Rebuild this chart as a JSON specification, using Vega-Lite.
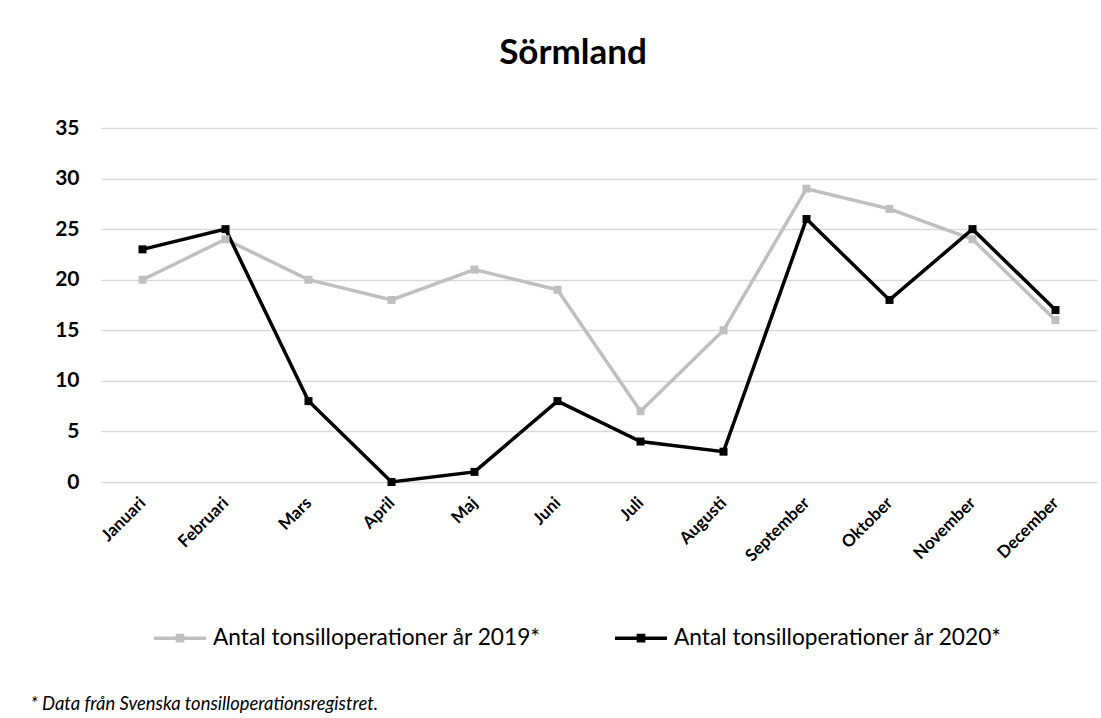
{
  "$schema": "https://vega.github.io/schema/vega-lite/v6.json",
  "width": 996,
  "height": 354,
  "autosize": {"type": "none"},
  "padding": {"left": 101, "top": 128, "right": 4, "bottom": 236},
  "background": "white",
  "config": {
    "font": "Lato",
    "view": {"stroke": null},
    "axis": {"labelColor": "#000000", "titleColor": "#000000"}
  },
  "title": {
    "text": "Sörmland",
    "fontSize": 35,
    "fontWeight": "bold",
    "font": "Lato",
    "color": "#000000",
    "anchor": "middle",
    "frame": "group",
    "baseline": "alphabetic",
    "offset": 18,
    "dx": -26
  },
  "data": {
    "values": [
      {"month": "Januari", "series": "Antal tonsilloperationer år 2019*", "value": 20},
      {"month": "Februari", "series": "Antal tonsilloperationer år 2019*", "value": 24},
      {"month": "Mars", "series": "Antal tonsilloperationer år 2019*", "value": 20},
      {"month": "April", "series": "Antal tonsilloperationer år 2019*", "value": 18},
      {"month": "Maj", "series": "Antal tonsilloperationer år 2019*", "value": 21},
      {"month": "Juni", "series": "Antal tonsilloperationer år 2019*", "value": 19},
      {"month": "Juli", "series": "Antal tonsilloperationer år 2019*", "value": 7},
      {"month": "Augusti", "series": "Antal tonsilloperationer år 2019*", "value": 15},
      {"month": "September", "series": "Antal tonsilloperationer år 2019*", "value": 29},
      {"month": "Oktober", "series": "Antal tonsilloperationer år 2019*", "value": 27},
      {"month": "November", "series": "Antal tonsilloperationer år 2019*", "value": 24},
      {"month": "December", "series": "Antal tonsilloperationer år 2019*", "value": 16},
      {"month": "Januari", "series": "Antal tonsilloperationer år 2020*", "value": 23},
      {"month": "Februari", "series": "Antal tonsilloperationer år 2020*", "value": 25},
      {"month": "Mars", "series": "Antal tonsilloperationer år 2020*", "value": 8},
      {"month": "April", "series": "Antal tonsilloperationer år 2020*", "value": 0},
      {"month": "Maj", "series": "Antal tonsilloperationer år 2020*", "value": 1},
      {"month": "Juni", "series": "Antal tonsilloperationer år 2020*", "value": 8},
      {"month": "Juli", "series": "Antal tonsilloperationer år 2020*", "value": 4},
      {"month": "Augusti", "series": "Antal tonsilloperationer år 2020*", "value": 3},
      {"month": "September", "series": "Antal tonsilloperationer år 2020*", "value": 26},
      {"month": "Oktober", "series": "Antal tonsilloperationer år 2020*", "value": 18},
      {"month": "November", "series": "Antal tonsilloperationer år 2020*", "value": 25},
      {"month": "December", "series": "Antal tonsilloperationer år 2020*", "value": 17}
    ]
  },
  "mark": {
    "type": "line",
    "strokeWidth": 3.5,
    "point": {"filled": true, "shape": "square", "size": 64, "opacity": 1}
  },
  "encoding": {
    "x": {
      "field": "month",
      "type": "nominal",
      "sort": null,
      "scale": {"paddingInner": 0, "paddingOuter": 0.5},
      "axis": {
        "labelAngle": -45,
        "labelAlign": "right",
        "labelBaseline": "middle",
        "labelFontSize": 17,
        "labelFontWeight": "bold",
        "labelPadding": 18,
        "ticks": false,
        "domain": false,
        "grid": false,
        "title": "* Data från Svenska tonsilloperationsregistret.",
        "titleFontSize": 18.4,
        "titleFontStyle": "italic",
        "titleFontWeight": "normal",
        "titleX": -71,
        "titleY": 227,
        "titleAlign": "left",
        "titleAnchor": "start",
        "titleBaseline": "alphabetic"
      }
    },
    "y": {
      "field": "value",
      "type": "quantitative",
      "scale": {"domain": [0, 35], "nice": false},
      "axis": {
        "values": [0, 5, 10, 15, 20, 25, 30, 35],
        "labelFontSize": 21,
        "labelFontWeight": "bold",
        "labelPadding": 22,
        "ticks": false,
        "domain": false,
        "grid": true,
        "gridColor": "#D9D9D9",
        "gridWidth": 1.5,
        "title": null
      }
    },
    "color": {
      "field": "series",
      "type": "nominal",
      "scale": {"range": ["#BFBFBF", "#000000"]},
      "legend": {
        "title": null,
        "orient": "none",
        "direction": "horizontal",
        "legendX": 51,
        "legendY": 482,
        "labelFontSize": 22.7,
        "labelColor": "#000000",
        "labelOffset": 5,
        "labelLimit": 500,
        "columnPadding": 67,
        "symbolType": "M-1,0H1M-0.1,-0.1H0.1V0.1H-0.1Z",
        "symbolSize": 2704,
        "symbolStrokeWidth": 3.5,
        "encode": {
          "symbols": {
            "update": {
              "fill": {"scale": "color", "field": "value"},
              "stroke": {"scale": "color", "field": "value"}
            }
          }
        }
      }
    }
  }
}
